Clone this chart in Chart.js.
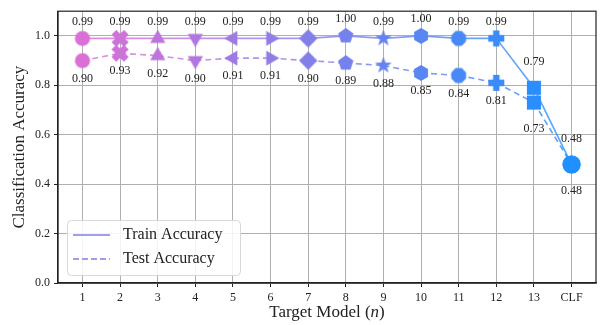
<script src="https://cdn.jsdelivr.net/npm/chart.js"></script>
<style>body{margin:0;background:#fff}</style>
<div style="width:606px;height:325px"><canvas id="myChart"></canvas></div>
<script>
// data
const labels = ['1','2','3','4','5','6','7','8','9','10','11','12','13','CLF'];
const trainAcc = [0.99,0.99,0.99,0.99,0.99,0.99,0.99,1.00,0.99,1.00,0.99,0.99,0.79,0.48];
const testAcc  = [0.90,0.93,0.92,0.90,0.91,0.91,0.90,0.89,0.88,0.85,0.84,0.81,0.73,0.48];
const shapes = ['circle','x','triUp','triDown','triLeft','triRight','diamond','pentagon','star','hexagon','octagon','plus','square','circle'];

const SERIF = "'Liberation Serif', 'DejaVu Serif', serif";

// colours from orchid to dodgerblue
function col(i, a){
  const t = i / (labels.length - 1);
  const r = Math.round(218 + (30 - 218) * t);
  const g = Math.round(112 + (144 - 112) * t);
  const b = Math.round(214 + (255 - 214) * t);
  return 'rgba(' + r + ',' + g + ',' + b + ',' + (a == null ? 1 : a) + ')';
}

function poly(ctx, c, n, r, rot){
  ctx.beginPath();
  for (let k = 0; k < n; k++){
    const a = rot + k * 2 * Math.PI / n;
    ctx.lineTo(c + r * Math.cos(a), c + r * Math.sin(a));
  }
  ctx.closePath();
}

function marker(shape, color, r){
  const cv = document.createElement('canvas');
  const s = Math.ceil(2 * r + 6);
  cv.width = s; cv.height = s;
  const ctx = cv.getContext('2d');
  const c = s / 2;
  ctx.fillStyle = color;
  const up = -Math.PI / 2;
  if (shape === 'circle'){ ctx.beginPath(); ctx.arc(c, c, r * 0.95, 0, 2 * Math.PI); }
  else if (shape === 'triUp') poly(ctx, c, 3, r * 1.1, up);
  else if (shape === 'triDown') poly(ctx, c, 3, r * 1.1, Math.PI / 2);
  else if (shape === 'triLeft') poly(ctx, c, 3, r * 1.1, Math.PI);
  else if (shape === 'triRight') poly(ctx, c, 3, r * 1.1, 0);
  else if (shape === 'diamond') poly(ctx, c, 4, r * 1.15, up);
  else if (shape === 'pentagon') poly(ctx, c, 5, r, up);
  else if (shape === 'hexagon') poly(ctx, c, 6, r, up);
  else if (shape === 'octagon') poly(ctx, c, 8, r, Math.PI / 8);
  else if (shape === 'square'){ ctx.beginPath(); ctx.rect(c - r * 0.88, c - r * 0.88, r * 1.76, r * 1.76); }
  else if (shape === 'star'){
    ctx.beginPath();
    for (let k = 0; k < 10; k++){
      const rr = k % 2 ? r * 0.45 : r * 1.1;
      const a = up + k * Math.PI / 5;
      ctx.lineTo(c + rr * Math.cos(a), c + rr * Math.sin(a));
    }
    ctx.closePath();
  }
  else if (shape === 'plus'){
    const w = r * 0.4;
    ctx.beginPath();
    ctx.rect(c - r, c - w, 2 * r, 2 * w);
    ctx.rect(c - w, c - r, 2 * w, 2 * r);
  }
  else if (shape === 'x'){
    ctx.save(); ctx.translate(c, c); ctx.rotate(Math.PI / 4);
    const w = r * 0.42, L = r * 1.1;
    ctx.beginPath();
    ctx.rect(-L, -w, 2 * L, 2 * w);
    ctx.rect(-w, -L, 2 * w, 2 * L);
    ctx.fill('nonzero'); ctx.restore();
    return cv;
  }
  ctx.fill('nonzero');
  return cv;
}

const markers = shapes.map((s, i) => marker(s, col(i), i === labels.length - 1 ? 9.5 : 8));

function pts(arr){ return arr.map((v, i) => ({x: i, y: v})); }

// value labels + axis titles + legend
const extras = {
  id: 'extras',
  afterDatasetsDraw(chart){
    const ctx = chart.ctx, x = chart.scales.x, y = chart.scales.y, ca = chart.chartArea;
    ctx.save();
    ctx.fillStyle = '#222';
    ctx.font = '12px ' + SERIF;
    ctx.textAlign = 'center';
    ctx.textBaseline = 'middle';
    trainAcc.forEach((v, i) => {
      const off = i >= 12 ? 26 : 17;
      ctx.fillText(v.toFixed(2), x.getPixelForValue(i), y.getPixelForValue(v) - off);
    });
    testAcc.forEach((v, i) => {
      const off = i >= 12 ? 26 : 18;
      ctx.fillText(v.toFixed(2), x.getPixelForValue(i), y.getPixelForValue(v) + off);
    });

    // legend box
    const lx = ca.left + 9, ly = ca.bottom - 63, lw = 173, lh = 55;
    ctx.fillStyle = 'rgba(255,255,255,0.85)';
    ctx.strokeStyle = '#d8d8d8';
    ctx.lineWidth = 1;
    ctx.beginPath();
    ctx.roundRect(lx + 0.5, ly + 0.5, lw, lh, 4);
    ctx.fill(); ctx.stroke();
    ctx.strokeStyle = '#7f7fe6';
    ctx.lineWidth = 1.6;
    ctx.beginPath(); ctx.moveTo(lx + 6, ly + 15); ctx.lineTo(lx + 43, ly + 15); ctx.stroke();
    ctx.setLineDash([6, 3]);
    ctx.beginPath(); ctx.moveTo(lx + 6, ly + 39); ctx.lineTo(lx + 43, ly + 39); ctx.stroke();
    ctx.setLineDash([]);
    ctx.fillStyle = '#222';
    ctx.font = '16px ' + SERIF;
    ctx.textAlign = 'left';
    ctx.fillText('Train Accuracy', lx + 56, ly + 15);
    ctx.fillText('Test Accuracy', lx + 56, ly + 39);

    // x title
    const fs = '17px ';
    const t1 = 'Target Model (', t2 = 'n', t3 = ')';
    ctx.font = fs + SERIF; const w1 = ctx.measureText(t1).width, w3 = ctx.measureText(t3).width;
    ctx.font = 'italic ' + fs + SERIF; const w2 = ctx.measureText(t2).width;
    let sx = (ca.left + ca.right) / 2 - (w1 + w2 + w3) / 2;
    const ty = 313;
    ctx.font = fs + SERIF; ctx.fillText(t1, sx, ty);
    ctx.font = 'italic ' + fs + SERIF; ctx.fillText(t2, sx + w1, ty);
    ctx.font = fs + SERIF; ctx.fillText(t3, sx + w1 + w2, ty);

    // y title
    ctx.translate(20, (ca.top + ca.bottom) / 2);
    ctx.rotate(-Math.PI / 2);
    ctx.textAlign = 'center';
    ctx.fillText('Classification Accuracy', 0, 0);
    ctx.restore();
  }
};

const config = {
  type: 'line',
  data: {
    datasets: [{
      label: 'Train Accuracy',
      data: pts(trainAcc),
      borderWidth: 1.6,
      borderColor: col(6, 0.85),
      segment: { borderColor: c => col(c.p0DataIndex, 0.8) },
      pointStyle: markers,
      pointRadius: 8,
      pointHoverRadius: 8
    }, {
      label: 'Test Accuracy',
      data: pts(testAcc),
      borderWidth: 1.6,
      borderDash: [6, 4],
      borderColor: col(6, 0.85),
      segment: { borderColor: c => col(c.p0DataIndex, 0.8) },
      pointStyle: markers,
      pointRadius: 8,
      pointHoverRadius: 8
    }]
  },
  options: {
    responsive: false,
    animation: false,
    layout: { padding: { top: 11, right: 10, left: 0, bottom: 0 } },
    plugins: { legend: { display: false }, tooltip: { enabled: false } },
    scales: {
      x: {
        type: 'linear',
        min: -0.65,
        max: 13.65,
        afterFit: s => { s.height = 42; },
        afterBuildTicks: s => { s.ticks = labels.map((l, i) => ({value: i})); },
        ticks: {
          autoSkip: false,
          maxRotation: 0,
          color: '#222',
          font: { family: SERIF, size: 12 },
          padding: 4,
          callback: v => labels[v]
        },
        grid: { color: '#b0b0b0', lineWidth: 1, tickLength: 4, tickColor: '#222' },
        border: { color: '#222', width: 1.2 }
      },
      y: {
        min: 0,
        max: 1.1,
        afterFit: s => { s.width = 58; },
        afterBuildTicks: s => { s.ticks = [0, 0.2, 0.4, 0.6, 0.8, 1.0].map(v => ({value: v})); },
        ticks: {
          color: '#222',
          font: { family: SERIF, size: 12 },
          padding: 4,
          callback: v => v.toFixed(1)
        },
        grid: { color: '#b0b0b0', lineWidth: 1, tickLength: 4, tickColor: '#222' },
        border: { color: '#222', width: 1.2 }
      }
    }
  },
  plugins: [extras, {
    id: 'frame',
    afterDraw(chart){
      const ca = chart.chartArea, ctx = chart.ctx;
      ctx.save();
      ctx.strokeStyle = '#222'; ctx.lineWidth = 1.2;
      ctx.strokeRect(ca.left, ca.top, ca.right - ca.left, ca.bottom - ca.top);
      ctx.restore();
    }
  }]
};

const canvas = document.getElementById('myChart');
canvas.width = 606; canvas.height = 325;
new Chart(canvas, config);
</script>
